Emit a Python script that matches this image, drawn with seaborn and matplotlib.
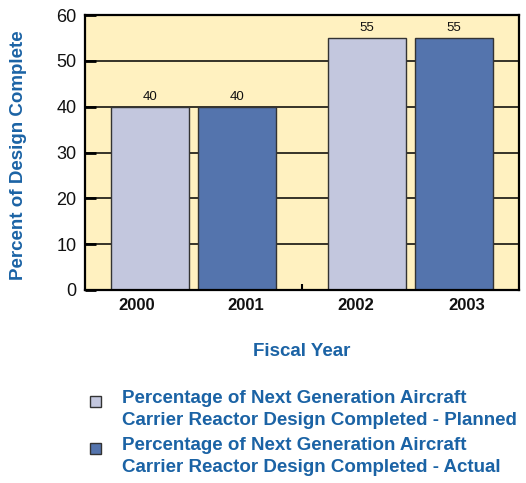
import matplotlib
matplotlib.use("Agg")
import matplotlib.pyplot as plt
from matplotlib.patches import Rectangle
import seaborn as sns
import pandas as pd

# Design progress by fiscal year
years = ["2000", "2001", "2002", "2003"]
values = [40, 40, 55, 55]
series = ["Planned", "Actual", "Planned", "Actual"]
pair = ["A", "A", "B", "B"]

legend_labels = [
    "Percentage of Next Generation Aircraft\nCarrier Reactor Design Completed - Planned",
    "Percentage of Next Generation Aircraft\nCarrier Reactor Design Completed - Actual",
]
colors = {"Planned": "#c3c7de", "Actual": "#5474ad"}
text_blue = "#1b63a5"
panel_bg = "#fff1c0"

df = pd.DataFrame({"year": years, "value": values, "series": series, "pair": pair})

sns.set_theme(style="white")
plt.rcParams["font.family"] = ["Liberation Sans", "DejaVu Sans"]

fig = plt.figure(figsize=(5.26, 4.83), dpi=100)
ax = fig.add_axes([85 / 526, 1 - 290 / 483, 434 / 526, 275 / 483])
ax.set_facecolor(panel_bg)

sns.barplot(
    data=df, x="pair", y="value", hue="series", hue_order=["Planned", "Actual"],
    palette=colors, saturation=1, dodge=True, width=0.8, gap=0.1, ax=ax,
    edgecolor="#333333", linewidth=1.0, legend=False, zorder=3,
)

# value labels above the bars
for container in ax.containers:
    ax.bar_label(container, fmt="%d", padding=3, fontsize=9.5, color="#111111")

ax.set_xlim(-0.5, 1.5)
ax.set_ylim(0, 60)
ax.set_yticks(range(0, 61, 10))
ax.yaxis.grid(True, color="black", linewidth=1.1, zorder=0)
ax.set_axisbelow(True)

# year labels spread evenly along the axis
ax.set_xticks([-0.26, 0.24, 0.75, 1.26])
ax.set_xticklabels(years, fontsize=12, fontweight="bold", color="#111111")
ax.set_xticks([0.5], minor=True)
ax.tick_params(axis="x", which="major", length=0, pad=6)
ax.tick_params(axis="x", which="minor", direction="in", length=4, width=1.5, color="black", bottom=True)
ax.tick_params(axis="y", direction="in", length=8, width=2, color="black", left=True,
               labelsize=13, labelcolor="#111111", pad=6)

for sp in ax.spines.values():
    sp.set_color("black")
    sp.set_linewidth(1.6)
    sp.set_zorder(5)

ax.set_xlabel("Fiscal Year", fontsize=13.5, fontweight="bold", color=text_blue, labelpad=21)
ax.set_ylabel("Percent of Design Complete", fontsize=13.5, fontweight="bold", color=text_blue)
ax.yaxis.set_label_coords(-0.134, 0.49)

# legend below the chart
line_tops = [401, 448]
for (key, label), ytop in zip(zip(["Planned", "Actual"], legend_labels), line_tops):
    fig.add_artist(Rectangle((90 / 526, 1 - (ytop + 6) / 483), 11 / 526, 11 / 483,
                             transform=fig.transFigure, facecolor=colors[key],
                             edgecolor="#333333", linewidth=1.0))
    fig.text(122 / 526, 1 - (ytop - 11) / 483, label, ha="left", va="top",
             fontsize=13.5, fontweight="bold", color=text_blue, linespacing=1.38)

fig.savefig("out.png", dpi=100)
